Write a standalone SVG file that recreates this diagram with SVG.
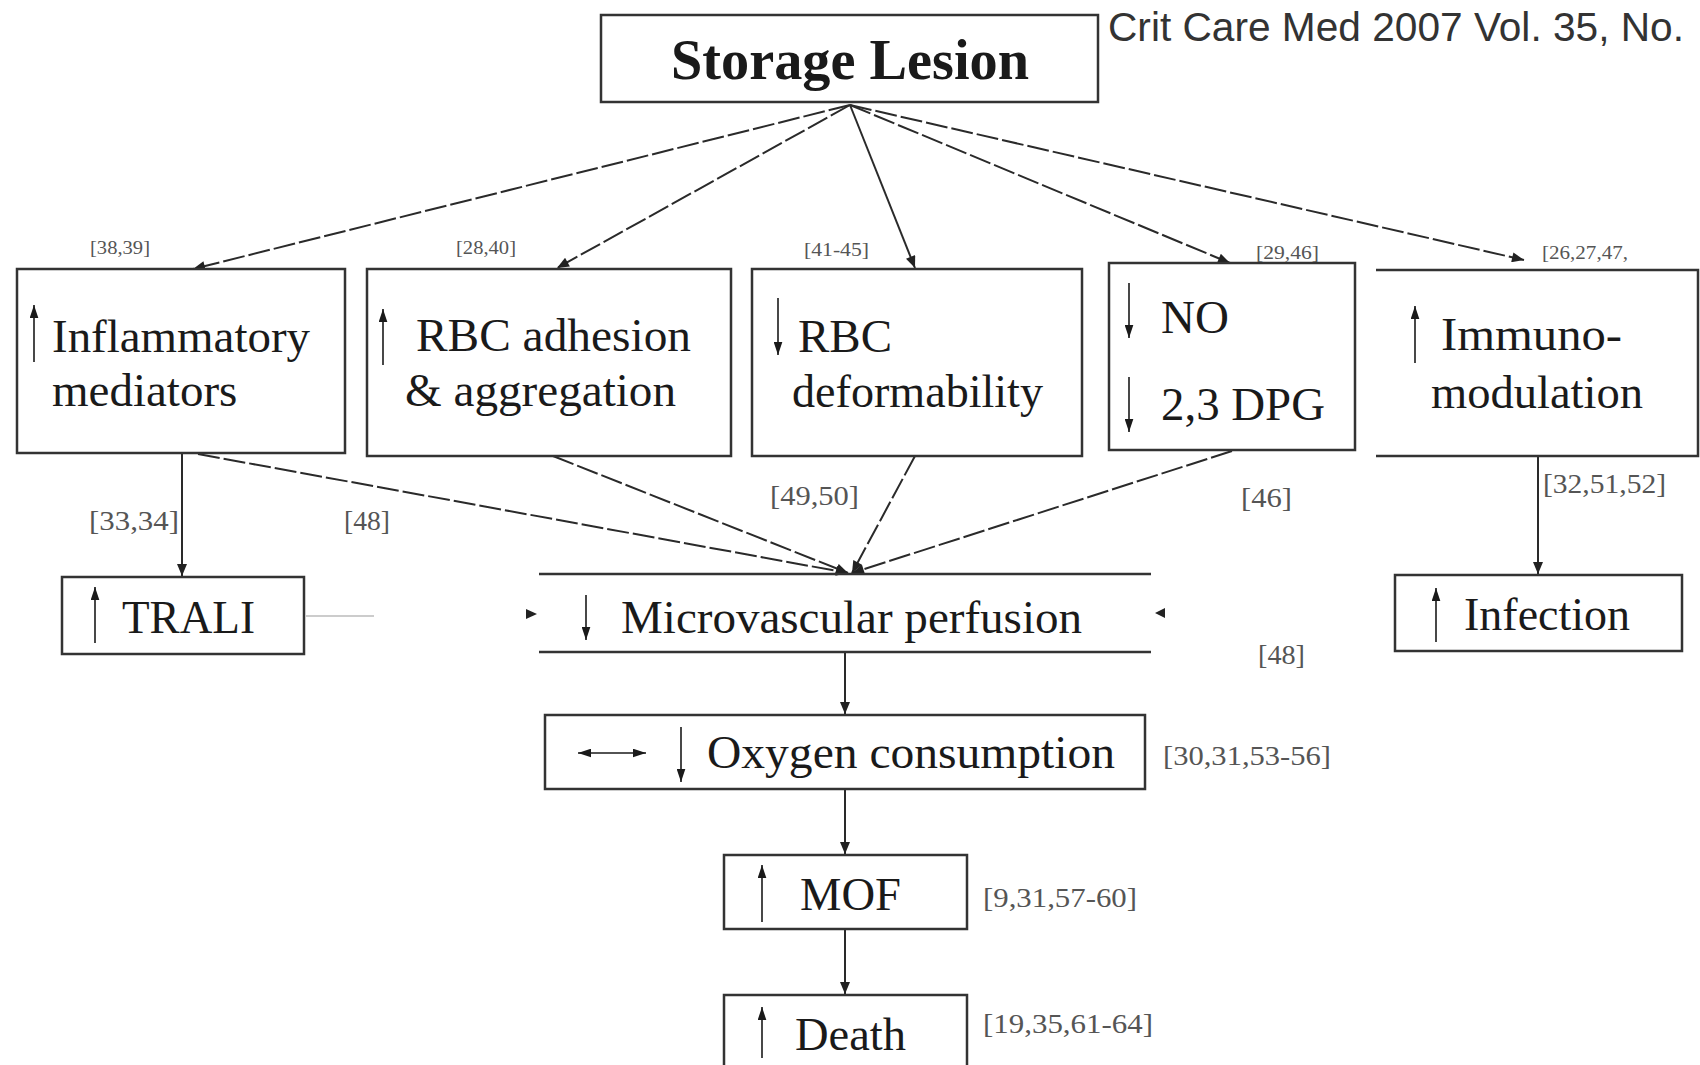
<svg xmlns="http://www.w3.org/2000/svg" width="1700" height="1065" viewBox="0 0 1700 1065">
<style>
.box{fill:#fff;stroke:#333;stroke-width:2.5}
.edge{fill:none;stroke:#333;stroke-width:2.5}
.t{font-family:"Liberation Serif","Times New Roman",serif;font-size:47px;fill:#1a1a1a}
.ref{font-family:"Liberation Serif","Times New Roman",serif;fill:#555}
.conn{fill:none;stroke:#2a2a2a;stroke-width:2}
.dash{stroke-dasharray:22 4}
.ga{fill:none;stroke:#1a1a1a;stroke-width:1.6}
</style>
<defs>
<marker id="ah" viewBox="0 0 12 10" refX="12" refY="5" markerWidth="13" markerHeight="10" orient="auto" markerUnits="userSpaceOnUse"><path d="M0,0 L12,5 L0,10 z" fill="#222"/></marker>
<marker id="sa" viewBox="0 0 12 8" refX="12" refY="4" markerWidth="13" markerHeight="9" orient="auto-start-reverse" markerUnits="userSpaceOnUse"><path d="M0,0 L12,4 L0,8 z" fill="#1a1a1a"/></marker>
</defs>
<rect width="1700" height="1065" fill="#fff"/>

<text x="1108" y="41" font-family="'Liberation Sans',Arial,sans-serif" font-size="41" fill="#333" textLength="576" lengthAdjust="spacingAndGlyphs">Crit Care Med 2007 Vol. 35, No.</text>

<g id="connectors">
<line class="conn dash" x1="850" y1="105" x2="193" y2="269" marker-end="url(#ah)"/>
<line class="conn dash" x1="850" y1="105" x2="557" y2="268" marker-end="url(#ah)"/>
<line class="conn" x1="850" y1="105" x2="915" y2="268" marker-end="url(#ah)"/>
<line class="conn dash" x1="850" y1="105" x2="1230" y2="263" marker-end="url(#ah)"/>
<line class="conn dash" x1="850" y1="105" x2="1524" y2="260" marker-end="url(#ah)"/>
<line class="conn" x1="182" y1="453" x2="182" y2="576" marker-end="url(#ah)"/>
<line class="conn dash" x1="198" y1="454" x2="848" y2="573" marker-end="url(#ah)"/>
<line class="conn dash" x1="553" y1="456" x2="848" y2="573" marker-end="url(#ah)"/>
<line class="conn dash" x1="915" y1="456" x2="852" y2="573" marker-end="url(#ah)"/>
<line class="conn dash" x1="1232" y1="451" x2="852" y2="573" marker-end="url(#ah)"/>
<line class="conn" x1="1538" y1="457" x2="1538" y2="574" marker-end="url(#ah)"/>
<line class="conn" x1="845" y1="653" x2="845" y2="714" marker-end="url(#ah)"/>
<line class="conn" x1="845" y1="789" x2="845" y2="854" marker-end="url(#ah)"/>
<line class="conn" x1="845" y1="929" x2="845" y2="994" marker-end="url(#ah)"/>
<line x1="306" y1="616" x2="374" y2="616" stroke="#ccc" stroke-width="2"/>
<path d="M526,609 L537,614 L526,619 z" fill="#222"/>
<path d="M1165,608 L1155,613 L1165,618 z" fill="#222"/>
</g>

<g id="storage">
<rect class="box" x="601" y="15" width="497" height="87"/>
<text x="850" y="79" text-anchor="middle" font-family="'Liberation Serif','Times New Roman',serif" font-weight="bold" font-size="57" fill="#1a1a1a" textLength="358" lengthAdjust="spacingAndGlyphs">Storage Lesion</text>
</g>

<g id="inflammatory">
<rect class="box" x="17" y="269" width="328" height="184"/>
<line class="ga" x1="34" y1="362" x2="34" y2="305" marker-end="url(#sa)"/>
<text class="t" x="52" y="352" textLength="258" lengthAdjust="spacingAndGlyphs">Inflammatory</text>
<text class="t" x="52" y="406">mediators</text>
<text class="ref" x="90" y="254" font-size="18" textLength="60" lengthAdjust="spacingAndGlyphs">[38,39]</text>
</g>

<g id="adhesion">
<rect class="box" x="367" y="269" width="364" height="187"/>
<line class="ga" x1="383" y1="365" x2="383" y2="309" marker-end="url(#sa)"/>
<text class="t" x="416" y="351" textLength="275" lengthAdjust="spacingAndGlyphs">RBC adhesion</text>
<text class="t" x="405" y="406" textLength="271" lengthAdjust="spacingAndGlyphs">&amp; aggregation</text>
<text class="ref" x="456" y="254" font-size="18" textLength="60" lengthAdjust="spacingAndGlyphs">[28,40]</text>
</g>

<g id="deformability">
<rect class="box" x="752" y="269" width="330" height="187"/>
<line class="ga" x1="778" y1="298" x2="778" y2="355" marker-end="url(#sa)"/>
<text class="t" x="798" y="352">RBC</text>
<text class="t" x="792" y="407" textLength="251" lengthAdjust="spacingAndGlyphs">deformability</text>
<text class="ref" x="804" y="256" font-size="19" textLength="65" lengthAdjust="spacingAndGlyphs">[41-45]</text>
</g>

<g id="no-dpg">
<rect class="box" x="1109" y="263" width="246" height="187"/>
<line class="ga" x1="1129" y1="283" x2="1129" y2="338" marker-end="url(#sa)"/>
<text class="t" x="1161" y="333">NO</text>
<line class="ga" x1="1129" y1="377" x2="1129" y2="432" marker-end="url(#sa)"/>
<text class="t" x="1161" y="420" textLength="164" lengthAdjust="spacingAndGlyphs">2,3 DPG</text>
<text class="ref" x="1256" y="259" font-size="18" textLength="63" lengthAdjust="spacingAndGlyphs">[29,46]</text>
</g>

<g id="immuno">
<polyline class="edge" points="1376,270 1698,270 1698,456 1376,456"/>
<line class="ga" x1="1415" y1="363" x2="1415" y2="306" marker-end="url(#sa)"/>
<text class="t" x="1441" y="350" textLength="181" lengthAdjust="spacingAndGlyphs">Immuno-</text>
<text class="t" x="1431" y="408" textLength="212" lengthAdjust="spacingAndGlyphs">modulation</text>
<text class="ref" x="1542" y="259" font-size="18" textLength="86" lengthAdjust="spacingAndGlyphs">[26,27,47,</text>
</g>

<g id="trali">
<rect class="box" x="62" y="577" width="242" height="77"/>
<line class="ga" x1="95" y1="643" x2="95" y2="587" marker-end="url(#sa)"/>
<text class="t" x="122" y="633" textLength="133" lengthAdjust="spacingAndGlyphs">TRALI</text>
<text class="ref" x="89" y="530" font-size="27" textLength="90" lengthAdjust="spacingAndGlyphs">[33,34]</text>
<text class="ref" x="344" y="530" font-size="27" textLength="46" lengthAdjust="spacingAndGlyphs">[48]</text>
</g>

<g id="microvascular">
<line class="edge" x1="539" y1="574" x2="1151" y2="574"/>
<line class="edge" x1="539" y1="652" x2="1151" y2="652"/>
<line class="ga" x1="586" y1="595" x2="586" y2="640" marker-end="url(#sa)"/>
<text class="t" x="621" y="633" textLength="461" lengthAdjust="spacingAndGlyphs">Microvascular perfusion</text>
<text class="ref" x="770" y="505" font-size="27" textLength="89" lengthAdjust="spacingAndGlyphs">[49,50]</text>
<text class="ref" x="1241" y="507" font-size="27" textLength="51" lengthAdjust="spacingAndGlyphs">[46]</text>
<text class="ref" x="1258" y="664" font-size="27" textLength="47" lengthAdjust="spacingAndGlyphs">[48]</text>
</g>

<g id="infection">
<rect class="box" x="1395" y="575" width="287" height="76"/>
<line class="ga" x1="1436" y1="642" x2="1436" y2="588" marker-end="url(#sa)"/>
<text class="t" x="1464" y="630" textLength="166" lengthAdjust="spacingAndGlyphs">Infection</text>
<text class="ref" x="1543" y="493" font-size="27" textLength="123" lengthAdjust="spacingAndGlyphs">[32,51,52]</text>
</g>

<g id="oxygen">
<rect class="box" x="545" y="715" width="600" height="74"/>
<line class="ga" x1="578" y1="753" x2="646" y2="753" marker-start="url(#sa)" marker-end="url(#sa)"/>
<line class="ga" x1="681" y1="727" x2="681" y2="782" marker-end="url(#sa)"/>
<text class="t" x="707" y="768" textLength="408" lengthAdjust="spacingAndGlyphs">Oxygen consumption</text>
<text class="ref" x="1163" y="765" font-size="27" textLength="168" lengthAdjust="spacingAndGlyphs">[30,31,53-56]</text>
</g>

<g id="mof">
<rect class="box" x="724" y="855" width="243" height="74"/>
<line class="ga" x1="762" y1="922" x2="762" y2="865" marker-end="url(#sa)"/>
<text class="t" x="800" y="910" textLength="101" lengthAdjust="spacingAndGlyphs">MOF</text>
<text class="ref" x="983" y="907" font-size="27" textLength="154" lengthAdjust="spacingAndGlyphs">[9,31,57-60]</text>
</g>

<g id="death">
<rect class="box" x="724" y="995" width="243" height="90"/>
<line class="ga" x1="762" y1="1058" x2="762" y2="1007" marker-end="url(#sa)"/>
<text class="t" x="795" y="1050" textLength="111" lengthAdjust="spacingAndGlyphs">Death</text>
<text class="ref" x="983" y="1033" font-size="27" textLength="170" lengthAdjust="spacingAndGlyphs">[19,35,61-64]</text>
</g>
</svg>
